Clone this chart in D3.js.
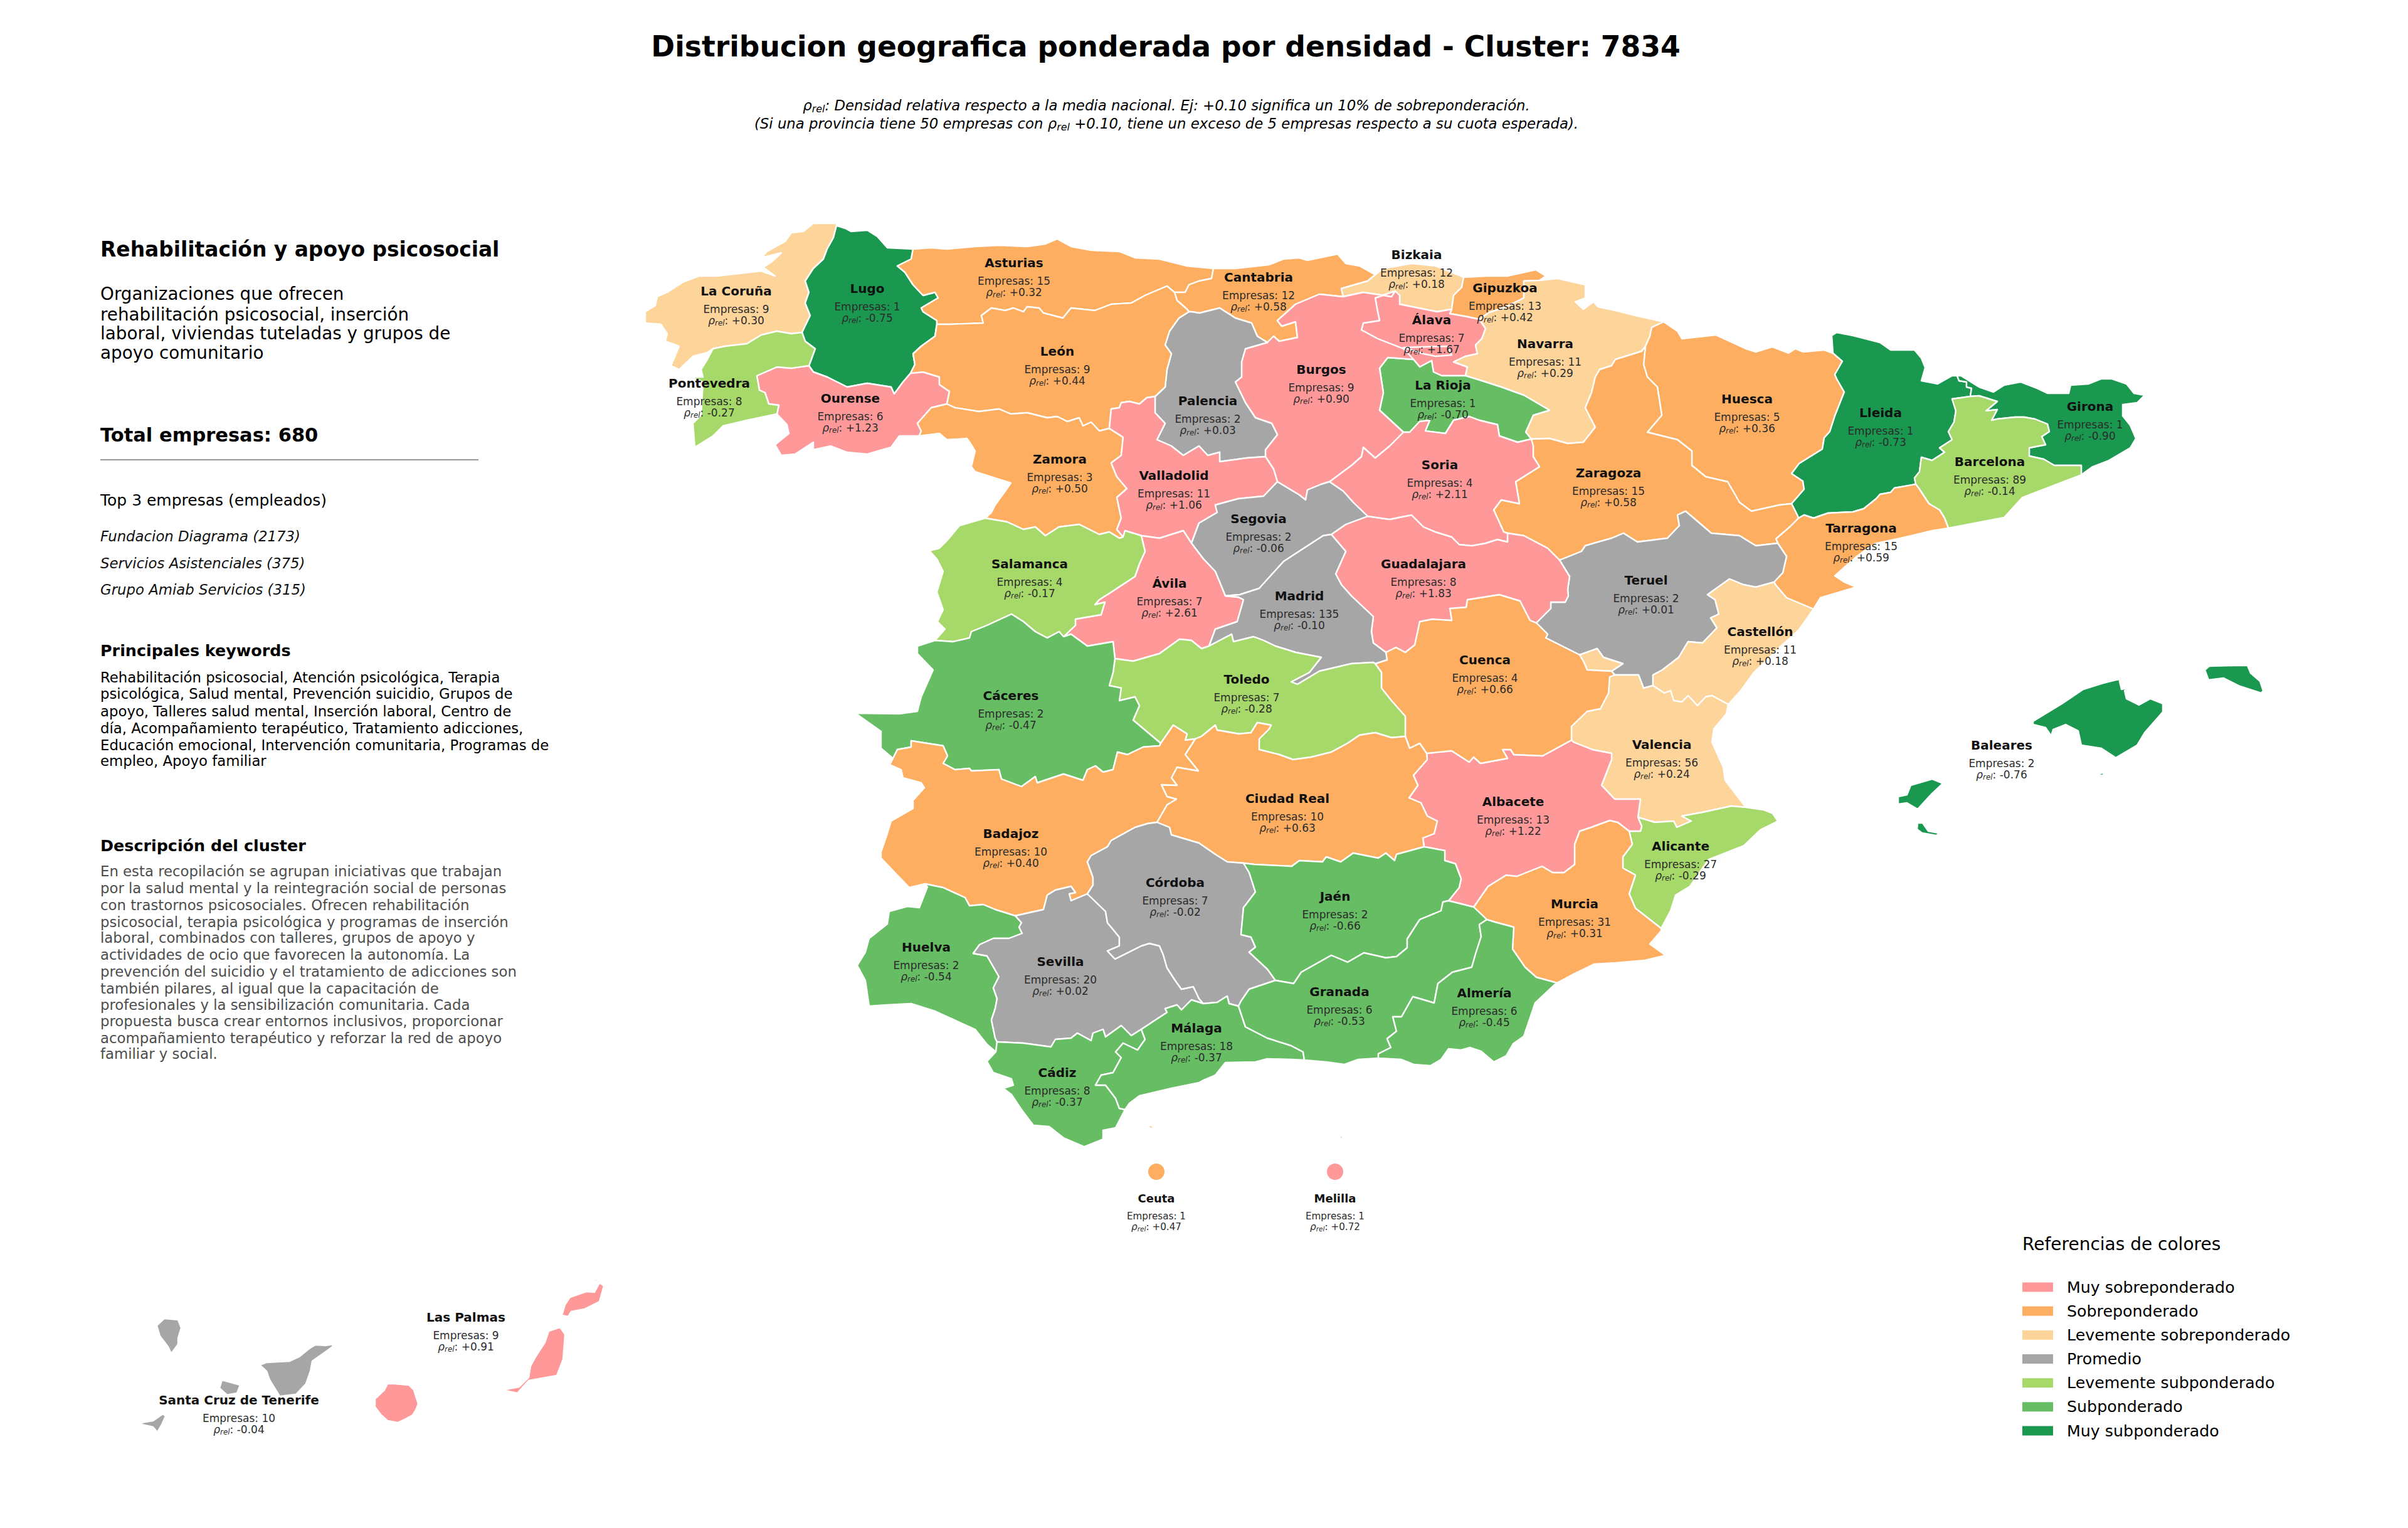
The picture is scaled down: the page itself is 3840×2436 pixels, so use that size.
<!DOCTYPE html>
<html>
<head>
<meta charset="utf-8">
<script src="https://cdn.jsdelivr.net/npm/d3@7"></script>
<style>
  html, body { margin: 0; background: #fff; }
  text { font-family: "DejaVu Sans", sans-serif; }
</style>
</head>
<body>
<svg id="chart" width="3840" height="2436"></svg>
<script>
// Province data
const provinces = ["La Coruña","Lugo","Ourense","Pontevedra","Asturias","Cantabria","Bizkaia","Gipuzkoa","Álava","Navarra","La Rioja","Huesca","Lleida","Girona","Barcelona","Tarragona","Zaragoza","Teruel","Castellón","Valencia","Alicante","Murcia","Albacete","Cuenca","Guadalajara","Soria","Burgos","Palencia","León","Zamora","Valladolid","Segovia","Ávila","Salamanca","Madrid","Toledo","Ciudad Real","Cáceres","Badajoz","Huelva","Sevilla","Córdoba","Jaén","Cádiz","Málaga","Granada","Almería","Baleares","Las Palmas","Santa Cruz de Tenerife","Ceuta","Melilla"];
const empresas = [9,1,6,8,15,12,12,13,7,11,1,5,1,1,89,15,15,2,11,56,27,31,13,4,8,4,9,2,9,3,11,2,7,4,135,7,10,2,10,2,20,7,2,8,18,6,6,2,9,10,1,1];
const rhoRel = [0.30,-0.75,1.23,-0.27,0.32,0.58,0.18,0.42,1.67,0.29,-0.70,0.36,-0.73,-0.90,-0.14,0.59,0.58,0.01,0.18,0.24,-0.29,0.31,1.22,0.66,1.83,2.11,0.90,0.03,0.44,0.50,1.06,-0.06,2.61,-0.17,-0.10,-0.28,0.63,-0.47,0.40,-0.54,0.02,-0.02,-0.66,-0.37,-0.37,-0.53,-0.45,-0.76,0.91,-0.04,0.47,0.72];
const labelX = [1174,1383,1356,1131,1617,2007,2259,2400,2283,2464,2301,2786,2999,3333,3173,2968,2565,2625,2807,2650,2680,2511,2413,2368,2270,2296,2107,1926,1686,1690,1872,2007,1865,1642,2072,1988,2053,1612,1612,1477,1691,1874,2129,1686,1908,2136,2367,3192,743,381,1844,2129];
const labelY = [464,460,635,611,419,442,406,459,510,548,614,636,658,648,736,842,754,925,1007,1187,1349,1441,1278,1052,899,741,589,639,560,732,758,827,930,899,950,1083,1273,1109,1329,1510,1533,1407,1429,1710,1639,1581,1583,1188,2100,2232,1910,1910];

// Classes
const classNames = ["Muy sobreponderado","Sobreponderado","Levemente sobreponderado","Promedio","Levemente subponderado","Subponderado","Muy subponderado"];
const classColors = ["#ff9999","#fdae61","#fdd49a","#a6a6a6","#a6d96a","#66bd63","#1a9850"];
const classBreaks = [-0.71,-0.3,-0.11,0.1,0.305,0.7];

// Ceuta and Melilla also get a marker under the map
const dotProvinces = ["Ceuta","Melilla"];
const dotX = [1844,2129];
const dotY = [1868,1868];

// Side panel text
const conceptLines = ["Organizaciones que ofrecen","rehabilitación psicosocial, inserción","laboral, viviendas tuteladas y grupos de","apoyo comunitario"];
const conceptY = [468,501,531,562];
const topCompanies = ["Fundacion Diagrama (2173)","Servicios Asistenciales (375)","Grupo Amiab Servicios (315)"];
const topY = [855,898,940];
const keywordLines = ["Rehabilitación psicosocial, Atención psicológica, Terapia","psicológica, Salud mental, Prevención suicidio, Grupos de","apoyo, Talleres salud mental, Inserción laboral, Centro de","día, Acompañamiento terapéutico, Tratamiento adicciones,","Educación emocional, Intervención comunitaria, Programas de","empleo, Apoyo familiar"];
const keywordY = [1080,1106,1134,1161,1188,1213];
const descLines = ["En esta recopilación se agrupan iniciativas que trabajan","por la salud mental y la reintegración social de personas","con trastornos psicosociales. Ofrecen rehabilitación","psicosocial, terapia psicológica y programas de inserción","laboral, combinados con talleres, grupos de apoyo y","actividades de ocio que favorecen la autonomía. La","prevención del suicidio y el tratamiento de adicciones son","también pilares, al igual que la capacitación de","profesionales y la sensibilización comunitaria. Cada","propuesta busca crear entornos inclusivos, proporcionar","acompañamiento terapéutico y reforzar la red de apoyo","familiar y social."];
const descY = [1389,1416,1443,1470,1495,1522,1549,1576,1602,1628,1655,1680];

// Shared borders (topojson style, so neighbours line up)
const arcs = {
  corCoast: "1335,356 1297,356 1281,369 1262,371 1252,385 1223,401 1214,411 1246,403 1230,418 1217,426 1236,440 1214,432 1179,436 1144,440 1115,440 1089,450 1064,466 1048,473 1045,487 1029,497 1029,515 1054,517 1064,532 1061,544 1083,552 1070,583 1083,589 1105,568 1128,562 1137,556",
  corPon: "1137,556 1156,552 1191,548 1214,534 1239,528 1262,532 1279,530",
  corLug: "1335,356 1329,379 1319,397 1313,413 1297,428 1284,448 1290,466 1284,483 1292,503 1279,530",
  ponCoast: "1137,556 1128,573 1118,589 1121,601 1102,601 1121,609 1118,662 1105,675 1108,713 1137,695 1153,679 1191,670 1239,660",
  ponOur: "1239,660 1242,646 1226,644 1220,626 1211,622 1207,599 1239,585 1262,587 1290,583",
  ponLug: "1279,530 1284,544 1300,556 1290,583",
  lugCoast: "1335,356 1335,360 1348,364 1357,369 1383,367 1399,377 1415,395 1456,397",
  lugAst: "1456,397 1453,413 1431,424 1443,434 1456,454 1472,471 1491,466 1496,475 1469,491 1472,497 1494,511 1494,517",
  lugLeo: "1494,517 1491,536 1469,552 1456,564 1459,581 1452,595",
  lugOur: "1290,583 1297,593 1319,601 1351,617 1383,611 1421,617 1426,628 1440,609 1452,595",
  ourLeo: "1452,595 1472,593 1498,601 1498,613 1514,624 1510,644",
  ourZam: "1510,644 1485,650 1463,675 1469,687 1466,695",
  ourSouth: "1239,660 1255,677 1258,691 1236,709 1246,726 1268,724 1297,705 1297,717 1325,711 1351,721 1383,724 1421,713 1434,695 1466,695",
  astCoast: "1456,397 1485,395 1510,397 1555,393 1593,391 1638,393 1667,389 1686,381 1708,393 1740,399 1785,401 1810,411 1849,413 1893,424 1935,428",
  astCant: "1935,428 1932,444 1912,448 1896,454 1890,466 1873,466",
  leoAst: "1494,517 1515,517 1568,515 1565,503 1581,491 1603,495 1616,491 1632,497 1638,489 1657,491 1664,499 1695,507 1708,491 1746,495 1772,485 1804,483 1826,471 1861,456 1873,466",
  leoCant: "1873,466 1877,479 1893,493 1896,497",
  leoPal: "1896,497 1880,507 1865,528 1858,550 1868,564 1861,589 1858,617 1842,632",
  leoVal: "1842,632 1829,634 1817,644 1801,640 1788,642 1785,650 1772,652 1769,683",
  leoZam: "1510,644 1523,650 1561,656 1593,652 1612,660 1638,658 1670,666 1686,664 1702,672 1721,666 1727,679 1740,673 1753,687 1769,683",
  zamWest: "1466,695 1498,691 1510,701 1542,699 1549,709 1555,719 1549,744 1555,752 1612,770 1603,783 1587,805 1581,817 1571,826",
  zamVal: "1769,683 1791,697 1788,726 1772,738 1781,760 1797,779 1781,793 1788,826 1781,844 1791,856",
  zamSal: "1571,826 1606,832 1632,844 1651,840 1667,854 1689,840 1721,836 1753,852 1769,848 1785,858 1791,856",
  valSal: "1791,856 1794,846 1820,854",
  salWest: "1571,826 1530,838 1510,862 1498,874 1482,878 1494,891 1504,911 1494,944 1504,972 1495,991 1507,1003 1491,1021",
  salCac: "1491,1021 1520,1023 1546,1017 1549,1007 1574,997 1613,979 1632,991 1651,1007 1670,1017 1689,1007 1696,1015",
  salAvi: "1820,854 1826,879 1817,899 1810,919 1772,944 1753,956 1746,964 1762,960 1756,980 1715,987 1715,997 1696,1015",
  valAvi: "1900,866 1887,846 1849,858 1820,854",
  segAvi: "1900,866 1919,891 1938,911 1954,950",
  madAvi: "1954,950 1975,952 1983,956 1973,991 1938,1003 1928,1030",
  aviTol: "1778,1050 1807,1054 1849,1042 1881,1019 1900,1021 1916,1034 1928,1030",
  cacAvi: "1696,1015 1708,1011 1734,1030 1775,1023 1778,1050",
  cacWest: "1491,1021 1463,1030 1463,1042 1488,1068 1469,1111 1463,1134 1434,1138 1364,1137 1405,1166 1405,1193 1424,1209",
  cacBad: "1424,1209 1431,1195 1453,1191 1453,1181 1504,1189 1511,1205 1504,1217 1523,1227 1546,1225 1549,1229 1593,1227 1597,1242 1629,1254 1651,1238 1654,1248 1696,1234 1727,1244 1734,1227 1747,1221 1759,1231 1775,1227 1782,1199 1798,1203 1823,1191 1849,1189 1851,1185",
  cacTol: "1778,1050 1775,1072 1769,1093 1788,1097 1785,1117 1810,1111 1817,1125 1807,1148 1851,1185",
  badWest: "1424,1209 1419,1219 1437,1227 1440,1240 1469,1248 1474,1256 1456,1276 1456,1289 1421,1309 1415,1329 1405,1358 1405,1368 1450,1415 1475,1409",
  badHue: "1475,1409 1504,1415 1539,1431 1546,1444 1568,1442 1587,1450 1619,1460",
  badSev: "1619,1460 1664,1450 1670,1427 1683,1419 1708,1413 1715,1423 1705,1425 1708,1436 1734,1425",
  badCor: "1734,1425 1743,1411 1743,1399 1734,1374 1740,1364 1766,1350 1772,1340 1810,1319 1830,1313 1845,1311",
  badCr: "1906,1178 1890,1203 1911,1229 1877,1223 1868,1240 1877,1252 1852,1251 1861,1270 1876,1274 1861,1283 1845,1311",
  badTol: "1851,1185 1871,1156 1893,1170 1890,1180 1906,1178",
  tolCr: "1906,1178 1916,1174 1938,1156 1941,1164 1976,1170 1995,1168 2005,1152 2027,1156 2024,1162 2008,1178 2008,1195 2040,1203 2062,1211 2091,1207 2123,1199 2149,1185 2168,1172 2193,1168 2219,1176 2241,1174",
  tolCue: "2241,1174 2241,1142 2219,1117 2203,1097 2203,1072 2193,1058",
  madTol: "1928,1030 1964,1011 1967,1023 1999,1015 2015,1021 2034,1030 2066,1040 2107,1048 2088,1072 2059,1087 2069,1091 2104,1070 2155,1058 2190,1056 2193,1058",
  crCue: "2241,1174 2248,1193 2264,1185 2275,1201",
  crAlb: "2275,1201 2276,1211 2254,1236 2261,1252 2247,1272 2266,1280 2276,1301 2292,1309 2287,1329 2269,1336 2271,1350",
  crJae: "2271,1350 2227,1362 2224,1372 2210,1360 2198,1368 2158,1360 2138,1374 2115,1366 2109,1374 2072,1372 2060,1381 2000,1378 1983,1376",
  crCor: "1983,1376 1957,1374 1938,1362 1912,1344 1868,1331 1865,1319 1845,1311",
  cdbJae: "1983,1376 1992,1391 2002,1422 1983,1447 1979,1490 1995,1494 2002,1510 1992,1518 2021,1545 2034,1563",
  cdbGra: "2034,1563 1992,1577 1979,1596 1975,1604",
  cdbMal: "1975,1604 1960,1600 1957,1588 1941,1598 1919,1600",
  cdbSev: "1919,1600 1912,1592 1903,1573 1884,1577 1874,1563 1861,1543 1855,1522 1849,1508 1833,1504 1820,1508 1778,1529 1766,1516 1785,1508 1785,1494 1766,1471 1763,1453 1734,1425",
  graJae: "2034,1563 2063,1568 2075,1550 2123,1523 2149,1534 2175,1519 2210,1527 2227,1525 2244,1511 2244,1497 2264,1466 2298,1452 2301,1438 2310,1436",
  jaeAlb: "2271,1350 2304,1356 2304,1372 2321,1377 2330,1401 2327,1415 2310,1436",
  hueSev: "1619,1460 1629,1471 1625,1478 1630,1488 1609,1496 1584,1496 1562,1506 1552,1520 1574,1524 1593,1557 1584,1575 1590,1592 1587,1608 1581,1626 1587,1655 1590,1661",
  hueCoast: "1475,1409 1479,1414 1466,1447 1447,1445 1418,1453 1415,1473 1386,1496 1380,1518 1367,1539 1380,1563 1386,1604 1415,1602 1453,1600 1491,1612 1555,1641 1574,1665 1588,1677",
  hueCad: "1590,1661 1588,1677",
  sevCad: "1590,1661 1632,1663 1676,1669 1683,1657 1708,1655 1718,1647 1740,1659 1743,1647 1759,1641 1763,1653 1788,1635 1804,1651 1820,1641",
  sevMal: "1820,1641 1861,1614 1858,1608 1877,1602 1884,1610 1900,1594 1919,1600",
  cadMal: "1820,1641 1826,1657 1814,1674 1791,1663 1779,1677 1788,1686 1775,1710 1756,1714 1747,1730 1763,1730 1779,1751 1785,1767 1794,1769",
  cadCoast: "1588,1677 1574,1692 1584,1710 1613,1720 1616,1730 1600,1735 1613,1745 1629,1769 1648,1794 1673,1796 1696,1814 1729,1828 1759,1816 1759,1802 1779,1798 1794,1769",
  malGra: "1975,1604 1979,1616 1986,1637 2021,1655 2059,1667 2078,1677 2080,1690",
  malCoast: "1794,1769 1801,1759 1817,1747 1868,1735 1912,1726 1919,1722 1938,1714 1954,1694 2002,1693 2021,1688 2059,1689 2080,1690",
  graAlb: "2310,1436 2350,1446",
  graMur: "2350,1446 2371,1466",
  graAlm: "2371,1466 2359,1474 2362,1493 2353,1521 2347,1542 2316,1550 2293,1568 2287,1599 2267,1593 2253,1589 2235,1621 2221,1621 2227,1644 2212,1656 2218,1670 2198,1680 2198,1687",
  graCoast: "2080,1690 2115,1693 2144,1697 2166,1689 2198,1687",
  almCoast: "2198,1687 2235,1689 2255,1697 2281,1699 2298,1689 2310,1672 2330,1674 2344,1670 2362,1676 2382,1693 2402,1683 2413,1664 2430,1652 2448,1599 2479,1570 2483,1567",
  murAlm: "2483,1567 2450,1558 2432,1542 2412,1513 2414,1478 2384,1470 2371,1466",
  albMur: "2350,1446 2373,1413 2402,1395 2419,1397 2459,1381 2476,1391 2494,1391 2511,1378 2511,1346 2519,1325 2537,1319 2567,1308 2580,1311 2598,1325",
  albAli: "2598,1325 2616,1325 2618,1317 2612,1303",
  albVal: "2612,1303 2616,1274 2575,1274 2554,1252 2570,1211 2570,1201 2539,1195 2509,1183 2506,1180",
  cueAlb: "2506,1180 2460,1205 2414,1203 2409,1195 2396,1195 2404,1209 2361,1217 2350,1207 2343,1215 2315,1197 2275,1201",
  aliMur: "2598,1325 2603,1346 2588,1366 2588,1384 2608,1395 2598,1425 2608,1448 2649,1480",
  murCoast: "2649,1480 2649,1484 2631,1505 2656,1523 2623,1531 2577,1535 2542,1537 2511,1552 2483,1567",
  valAli: "2612,1303 2639,1311 2669,1309 2674,1319 2697,1309 2682,1301 2715,1295 2761,1285 2784,1287",
  aliCoast: "2784,1287 2812,1291 2827,1297 2835,1309 2807,1323 2781,1348 2725,1370 2710,1391 2695,1413 2672,1427 2664,1452 2649,1480",
  valCoast: "2756,1123 2753,1138 2733,1162 2730,1183 2748,1223 2751,1244 2784,1287",
  casVal: "2756,1123 2730,1109 2720,1111 2707,1125 2692,1109 2682,1119 2669,1117 2664,1101 2654,1105 2636,1093",
  valTer: "2575,1076 2582,1076 2613,1076 2621,1097 2636,1093",
  cueVal: "2575,1076 2567,1079 2565,1105 2552,1130 2531,1134 2506,1158 2506,1180",
  adC: "2519,1044 2526,1056 2531,1068 2570,1070",
  adT: "2519,1044 2547,1034 2557,1048 2588,1058 2570,1070",
  cueTer: "2450,993 2468,1011 2465,1017 2519,1044",
  cueTer2: "2570,1070 2575,1076",
  guaCue: "2210,1040 2226,1032 2241,1040 2256,1028 2264,991 2284,987 2315,989 2312,970 2338,968 2340,956 2391,948 2424,958 2440,989 2450,993",
  madCue: "2193,1058 2212,1052 2210,1040",
  guaTer: "2487,893 2503,919 2500,940 2501,950 2496,960 2473,960 2473,970 2450,993",
  zarTer: "2835,866 2800,870 2774,854 2729,850 2701,826 2688,815 2675,821 2678,838 2659,858 2611,864 2589,850 2570,858 2528,870 2522,879 2487,893",
  terTar: "2829,928 2843,913 2849,887 2835,866",
  casTer: "2636,1093 2636,1076 2651,1068 2677,1048 2692,1023 2715,1025 2738,1001 2728,985 2741,979 2735,956 2723,948 2758,923 2780,932 2800,936 2829,928",
  casTar: "2892,971 2849,953 2832,933 2829,928",
  casCoast: "2892,971 2868,1005 2838,1032 2797,1072 2776,1101 2756,1123",
  tarZar: "2868,826 2855,839 2832,859 2835,866",
  lleTar: "2868,826 2877,821 2892,826 2915,818 2955,816 2972,811 2992,795 2998,788 3015,785 3021,778 3055,772",
  tarBar: "3055,772 3061,780 3076,803 3093,813 3101,826 3107,842",
  tarCoast: "3107,842 3081,846 3035,857 2989,867 2961,887 2926,918 2941,928 2960,936 2903,953 2892,971",
  barCoast: "3107,842 3196,825 3225,793 3319,757",
  barGir: "3319,757 3319,742 3276,742 3259,732 3236,727 3236,714 3262,709 3256,696 3268,688 3265,676 3245,668 3228,665 3213,665 3185,668 3176,670 3185,653 3167,655 3185,640 3156,631 3142,632",
  barLle: "3055,772 3053,762 3061,752 3064,729 3081,734 3101,721 3093,714 3113,701 3107,688 3116,673 3119,655 3113,636 3142,632",
  girCoast: "3319,757 3337,744 3363,734 3397,714 3406,699 3397,678 3385,663 3385,645 3408,642 3420,630 3403,627 3391,612 3368,604 3351,604 3331,612 3302,614 3299,627 3265,627 3248,619 3222,609 3196,614 3179,625 3156,617 3127,599 3121,599",
  lleGir: "3142,632 3144,619 3136,617 3136,609 3124,607 3121,599",
  lleFr: "2923,563 2921,535 2929,530 2955,535 2998,546 3015,558 3053,558 3064,571 3070,586 3064,607 3090,612 3113,599 3121,599",
  hscLle: "2857,803 2877,780 2875,767 2857,755 2869,739 2906,716 2909,698 2918,688 2926,663 2941,625 2929,604 2926,597 2938,576 2923,563",
  lleZar: "2857,803 2866,821 2868,826",
  hscNorth: "2653,513 2675,528 2682,540 2736,534 2784,556 2800,561 2826,553 2852,563 2863,556 2875,561 2909,558 2923,563",
  hscNav: "2653,513 2634,522 2631,536 2624,552",
  hscZar: "2624,552 2621,581 2627,601 2643,617 2650,662 2627,689 2675,701 2698,719 2698,742 2720,760 2755,768 2774,801 2793,815 2838,805 2857,803",
  navZar: "2624,552 2618,560 2576,573 2570,583 2551,589 2544,601 2538,626 2528,650 2544,681 2525,705 2500,707 2471,699 2442,700",
  zarSor: "2404,850 2398,848 2382,813 2394,797 2423,803 2417,768 2455,744 2445,728 2445,711 2442,700",
  zarGua: "2487,893 2468,874 2430,854 2404,850",
  navNorth: "2455,447 2484,444 2528,454 2528,475 2512,481 2525,493 2541,481 2548,489 2576,495 2608,503 2653,513",
  gipNav: "2455,447 2430,448 2430,475 2400,490 2375,498 2359,509",
  alaNav: "2337,599 2340,585 2318,577 2337,568 2356,564 2353,550 2363,540 2369,524 2359,509",
  rioNav: "2442,700 2433,689 2445,662 2471,654 2430,630 2394,617 2363,607 2337,599",
  rioSor: "2442,700 2420,705 2391,695 2388,677 2359,670 2343,664 2318,670 2305,691 2273,687 2280,670 2264,672 2248,689 2238,689",
  burRio: "2238,689 2200,654 2206,626 2200,587 2213,570 2254,573",
  rioAla: "2254,573 2264,585 2283,575 2286,593 2299,599 2337,599",
  burSor: "2120,768 2155,742 2171,728 2174,713 2193,730 2216,711 2238,689",
  sorSeg: "2120,768 2142,783 2158,801 2181,823",
  sorGua: "2404,850 2404,864 2388,860 2369,866 2347,870 2327,868 2315,856 2289,848 2270,840 2251,821 2216,828 2181,823",
  segGua: "2123,852 2146,836 2181,823",
  madGua: "2123,852 2146,879 2130,915 2139,932 2155,950 2190,983 2187,1007 2190,1025 2210,1040",
  burSeg: "2037,768 2072,789 2082,797 2085,781 2107,772 2120,768",
  segVal: "2037,768 2015,791 1975,795 1938,805 1941,817 1912,834 1900,866",
  segMad: "1954,950 1977,948 2008,938 2047,895 2110,854 2123,852",
  palVal: "1842,632 1842,658 1858,675 1845,701 1868,711 1887,726 1912,711 1926,726 1945,721 1945,736 1989,730 2018,728",
  burVal: "2018,728 2031,748 2037,768",
  canPal: "2021,546 2005,536 1996,515 1970,507 1945,491 1913,499 1900,497 1896,497",
  burPal: "2021,546 1986,556 1980,577 1980,601 1970,609 1986,642 2002,666 2028,675 2037,693 2018,717 2018,728",
  canCoast: "1935,428 1970,428 2024,422 2047,413 2072,411 2085,415 2133,405 2146,420 2168,424 2193,438",
  bizCan: "2193,438 2181,448 2139,460 2142,473",
  canBur: "2142,473 2104,469 2066,485 2037,511 2044,520 2066,513 2069,538 2040,544 2031,536 2021,546",
  bizCoast: "2193,438 2206,428 2251,420 2289,424 2334,442",
  bizGip: "2334,442 2331,458 2318,471 2315,493",
  bizAla: "2315,493 2292,497 2232,485 2232,471 2225,464",
  bizBur: "2142,473 2174,466 2219,473 2225,464",
  gipCoast: "2334,442 2372,440 2404,440 2449,430 2465,440 2455,447",
  gipAla: "2315,493 2312,500 2340,505 2359,509",
  alaBur: "2225,464 2193,475 2197,497 2200,511 2174,515 2171,526 2197,540 2238,556 2254,573",
  // Enclaves, islands and the two small territories
  trevino: "2238,554 2308,552 2315,566 2289,568 2270,564",
  mallorca: "3242,1150 3288,1122 3322,1099 3354,1089 3374,1084 3397,1081 3380,1086 3383,1099 3397,1096 3388,1101 3391,1114 3411,1124 3429,1114 3449,1122 3449,1135 3420,1168 3408,1188 3374,1208 3351,1193 3319,1188 3314,1165 3294,1155 3274,1163 3271,1173 3262,1160 3242,1155",
  menorca: "3516,1068 3523,1062 3563,1061 3584,1061 3589,1073 3604,1086 3609,1101 3606,1105 3572,1094 3546,1081 3522,1084",
  ibiza: "3027,1270 3041,1267 3047,1252 3081,1242 3098,1249 3081,1265 3058,1290 3041,1280 3027,1282",
  formentera: "3058,1312 3066,1312 3075,1325 3092,1328 3088,1332 3065,1328 3057,1322",
  cabrera: "3348,1233 3354,1232 3355,1236 3349,1236",
  laPalma: "250,2113 262,2102 284,2104 289,2117 284,2133 284,2143 273,2158 268,2147 255,2130",
  tenerife: "414,2176 425,2172 462,2170 477,2163 493,2150 503,2144 519,2145 532,2143 529,2148 498,2170 495,2186 488,2206 472,2223 446,2226 430,2200 425,2186",
  gomera: "354,2200 383,2208 378,2221 362,2224 350,2213",
  hierro: "226,2268 244,2265 260,2254 264,2258 258,2271 251,2283 244,2275 226,2271",
  granCanaria: "618,2206 629,2206 652,2208 660,2216 663,2226 667,2238 663,2248 658,2256 645,2263 634,2268 618,2265 608,2256 598,2243 598,2230 613,2216",
  fuerteventura: "875,2122 893,2116 901,2127 898,2167 888,2193 843,2201 825,2221 801,2216 828,2211 843,2196 846,2178 854,2163 869,2140",
  lanzarote: "901,2080 909,2068 935,2059 948,2060 956,2045 963,2050 956,2075 932,2087 911,2091 906,2099 896,2097",
  graciosa: "950,2037 953,2042 948,2043",
  ceutaCoast: "1831,1793 1838,1796 1841,1800 1833,1798",
  melillaCoast: "2138,1809 2141,1813 2139,1818 2137,1813"
};

// Each province: rings, each ring a list of arcs ("-" walks the arc backwards)
const provinceRings = [
  [["corCoast","corPon","-corLug"]],
  [["lugCoast","lugAst","lugLeo","-lugOur","-ponLug","-corLug"]],
  [["ponOur","lugOur","ourLeo","ourZam","-ourSouth"]],
  [["ponCoast","ponOur","-ponLug","-corPon"]],
  [["astCoast","astCant","-leoAst","-lugAst"]],
  [["canCoast","bizCan","canBur","canPal","-leoCant","-astCant"]],
  [["bizCoast","bizGip","bizAla","-bizBur","-bizCan"]],
  [["gipCoast","gipNav","-gipAla","-bizGip"]],
  [["-bizAla","gipAla","-alaNav","-rioAla","-alaBur"]],
  [["navNorth","hscNav","navZar","rioNav","alaNav","-gipNav"]],
  [["rioSor","burRio","rioAla","-rioNav"]],
  [["hscNorth","-hscLle","-hscZar","-hscNav"]],
  [["lleFr","-lleGir","-barLle","-lleTar","-lleZar","hscLle"]],
  [["girCoast","-lleGir","-barGir"]],
  [["tarBar","barCoast","barGir","-barLle"]],
  [["lleTar","tarBar","tarCoast","casTar","terTar","-tarZar"]],
  [["hscZar","lleZar","tarZar","zarTer","zarGua","zarSor","-navZar"]],
  [["zarTer","guaTer","cueTer","adT","cueTer2","valTer","casTer","terTar"]],
  [["casCoast","casVal","casTer","-casTar"]],
  [["valCoast","-valAli","albVal","-cueVal","valTer","-casVal"],["adC","-adT"]],
  [["albAli","valAli","aliCoast","-aliMur"]],
  [["graMur","-murAlm","-murCoast","-aliMur","-albMur"]],
  [["crAlb","jaeAlb","graAlb","albMur","albAli","albVal","cueAlb"]],
  [["tolCue","madCue","guaCue","cueTer","adC","cueTer2","cueVal","cueAlb","-crCue"]],
  [["-sorGua","-zarGua","guaTer","-guaCue","-madGua","segGua"]],
  [["burSor","-rioSor","-zarSor","sorGua","-sorSeg"]],
  [["bizBur","alaBur","-burRio","-burSor","-burSeg","-burVal","-burPal","-canBur"],["trevino"]],
  [["leoPal","palVal","-burPal","canPal"]],
  [["leoAst","leoCant","leoPal","leoVal","-leoZam","-ourLeo","-lugLeo"]],
  [["leoZam","zamVal","-zamSal","-zamWest","-ourZam"]],
  [["leoVal","zamVal","valSal","-valAvi","-segVal","-burVal","-palVal"]],
  [["burSeg","sorSeg","-segGua","-segMad","-segAvi","-segVal"]],
  [["salAvi","cacAvi","aviTol","-madAvi","-segAvi","valAvi"]],
  [["zamSal","valSal","salAvi","-salCac","-salWest"]],
  [["segMad","madGua","-madCue","-madTol","-madAvi"]],
  [["aviTol","madTol","-tolCue","-tolCr","-badTol","-cacTol"]],
  [["tolCr","crCue","crAlb","crJae","crCor","-badCr"]],
  [["salCac","cacAvi","cacTol","-cacBad","-cacWest"]],
  [["cacBad","badTol","badCr","-badCor","-badSev","-badHue","-badWest"]],
  [["badHue","hueSev","hueCad","-hueCoast"]],
  [["badSev","-cdbSev","-sevMal","-sevCad","-hueSev"]],
  [["-crCor","cdbJae","cdbGra","cdbMal","cdbSev","badCor"]],
  [["-crJae","jaeAlb","-graJae","-cdbJae"]],
  [["sevCad","cadMal","-cadCoast","-hueCad"]],
  [["sevMal","-cdbMal","malGra","-malCoast","-cadMal"]],
  [["-cdbGra","graJae","graAlb","graMur","graAlm","-graCoast","-malGra"]],
  [["-graAlm","-murAlm","-almCoast"]],
  [["mallorca"],["menorca"],["ibiza"],["formentera"],["cabrera"]],
  [["granCanaria"],["fuerteventura"],["lanzarote"],["graciosa"]],
  [["laPalma"],["tenerife"],["gomera"],["hierro"]],
  [["ceutaCoast"]],
  [["melillaCoast"]]
];

const parseArc = s => s.split(" ").map(p => p.split(",").map(Number));

function stitch(ring) {
  const pts = [];
  ring.forEach(name => {
    const rev = name[0] === "-";
    const a = parseArc(arcs[rev ? name.slice(1) : name]);
    if (rev) a.reverse();
    a.forEach(p => {
      const last = pts[pts.length - 1];
      if (!last || last[0] !== p[0] || last[1] !== p[1]) pts.push(p);
    });
  });
  const f = pts[0], l = pts[pts.length - 1];
  if (f[0] !== l[0] || f[1] !== l[1]) pts.push(f);
  return [pts];
}

const rows = provinces.map((name, i) => ({
  name, empresas: empresas[i], rho: rhoRel[i], x: labelX[i], y: labelY[i],
  feature: { type: "Feature", geometry: { type: "MultiPolygon", coordinates: provinceRings[i].map(stitch) } }
}));

const svg = d3.select("#chart");
const path = d3.geoPath(d3.geoIdentity());
const colorScale = d3.scaleThreshold().domain(classBreaks).range(classColors.slice().reverse());
const fmt = d3.formatLocale({ decimal: ".", thousands: ",", grouping: [3], currency: ["", ""], minus: "-" }).format("+.2f");

// Title block
svg.append("text").attr("x", 1859).attr("y", 74).attr("text-anchor", "middle")
  .attr("dominant-baseline", "central").attr("font-weight", "bold").attr("font-size", 45.6)
  .text("Distribucion geografica ponderada por densidad - Cluster: 7834");

function addRho(sel) {
  sel.append("tspan").attr("font-style", "italic").text("ρ");
  sel.append("tspan").attr("font-style", "italic").attr("font-size", "70%").attr("dy", "0.3em").text("rel");
}

const sub1 = svg.append("text").attr("x", 1860).attr("y", 168).attr("text-anchor", "middle")
  .attr("dominant-baseline", "central").attr("font-size", 22.8).attr("font-style", "italic");
addRho(sub1);
sub1.append("tspan").attr("dy", "-0.21em").text(": Densidad relativa respecto a la media nacional. Ej: +0.10 significa un 10% de sobreponderación.");

const sub2 = svg.append("text").attr("x", 1860).attr("y", 197).attr("text-anchor", "middle")
  .attr("dominant-baseline", "central").attr("font-size", 22.8).attr("font-style", "italic");
sub2.append("tspan").text("(Si una provincia tiene 50 empresas con ");
addRho(sub2);
sub2.append("tspan").attr("dy", "-0.21em").text(" +0.10, tiene un exceso de 5 empresas respecto a su cuota esperada).");

// Map
svg.append("g").selectAll("path").data(rows).join("path")
  .attr("d", d => path(d.feature))
  .attr("fill", d => colorScale(d.rho))
  .attr("stroke", "#fff").attr("stroke-width", 2.4).attr("stroke-linejoin", "round");

const dotRows = dotProvinces.map((name, i) => ({ name, x: dotX[i], y: dotY[i], rho: rhoRel[provinces.indexOf(name)] }));
svg.append("g").selectAll("circle").data(dotRows).join("circle")
  .attr("cx", d => d.x).attr("cy", d => d.y).attr("r", 13)
  .attr("fill", d => colorScale(d.rho));

// Province labels
const small = new Set(dotProvinces);
const labels = svg.append("g").selectAll("g").data(rows).join("g")
  .attr("transform", d => `translate(${d.x},${d.y})`)
  .attr("text-anchor", "middle");

labels.append("text").attr("dominant-baseline", "central").attr("font-weight", "bold")
  .attr("font-size", d => small.has(d.name) ? 18 : 20).attr("fill", "#111")
  .text(d => d.name);

labels.append("text").attr("y", 29).attr("dominant-baseline", "central")
  .attr("font-size", d => small.has(d.name) ? 15.2 : 17).attr("fill", "#2b2b2b")
  .text(d => `Empresas: ${d.empresas}`);

labels.append("text").attr("y", d => small.has(d.name) ? 46 : 47).attr("dominant-baseline", "central")
  .attr("font-size", d => small.has(d.name) ? 15.2 : 17).attr("fill", "#2b2b2b")
  .each(function (d) {
    const t = d3.select(this);
    addRho(t);
    t.append("tspan").attr("dy", "-0.21em").text(`: ${fmt(d.rho)}`);
  });

// Left panel
const panel = svg.append("g");
const left = 160;
function panelLines(lines, ys, size, opts = {}) {
  panel.append("g").selectAll("text").data(lines).join("text")
    .attr("x", left).attr("y", (d, i) => ys[i]).attr("dominant-baseline", "central")
    .attr("font-size", size).attr("font-weight", opts.bold ? "bold" : null)
    .attr("font-style", opts.italic ? "italic" : null).attr("fill", opts.color || "#000")
    .text(d => d);
}
panelLines(["Rehabilitación y apoyo psicosocial"], [397], 32.9, { bold: true });
panelLines(conceptLines, conceptY, 27.8);
panelLines(["Total empresas: 680"], [693], 30.5, { bold: true });
panel.append("line").attr("x1", left).attr("x2", 763).attr("y1", 733).attr("y2", 733)
  .attr("stroke", "#999").attr("stroke-width", 2.2);
panelLines(["Top 3 empresas (empleados)"], [797], 25);
panelLines(topCompanies, topY, 22.8, { italic: true, color: "#111" });
panelLines(["Principales keywords"], [1037], 25.4, { bold: true });
panelLines(keywordLines, keywordY, 22.8);
panelLines(["Descripción del cluster"], [1348], 25.4, { bold: true });
panelLines(descLines, descY, 22.8, { color: "#4d4d4d" });

// Colour legend
const legendY = d3.scalePoint().domain(classNames).range([2052, 2281]);
const legend = svg.append("g");
legend.append("text").attr("x", 3225).attr("y", 1983).attr("dominant-baseline", "central")
  .attr("font-size", 28).text("Referencias de colores");
legend.selectAll("rect").data(classNames).join("rect")
  .attr("x", 3225).attr("width", 49).attr("height", 15)
  .attr("y", d => legendY(d) - 7.5)
  .attr("fill", (d, i) => classColors[i]);
legend.selectAll("text.item").data(classNames).join("text")
  .attr("class", "item").attr("x", 3296).attr("y", d => legendY(d))
  .attr("dominant-baseline", "central").attr("font-size", 25.3)
  .text(d => d);
</script>
</body>
</html>
